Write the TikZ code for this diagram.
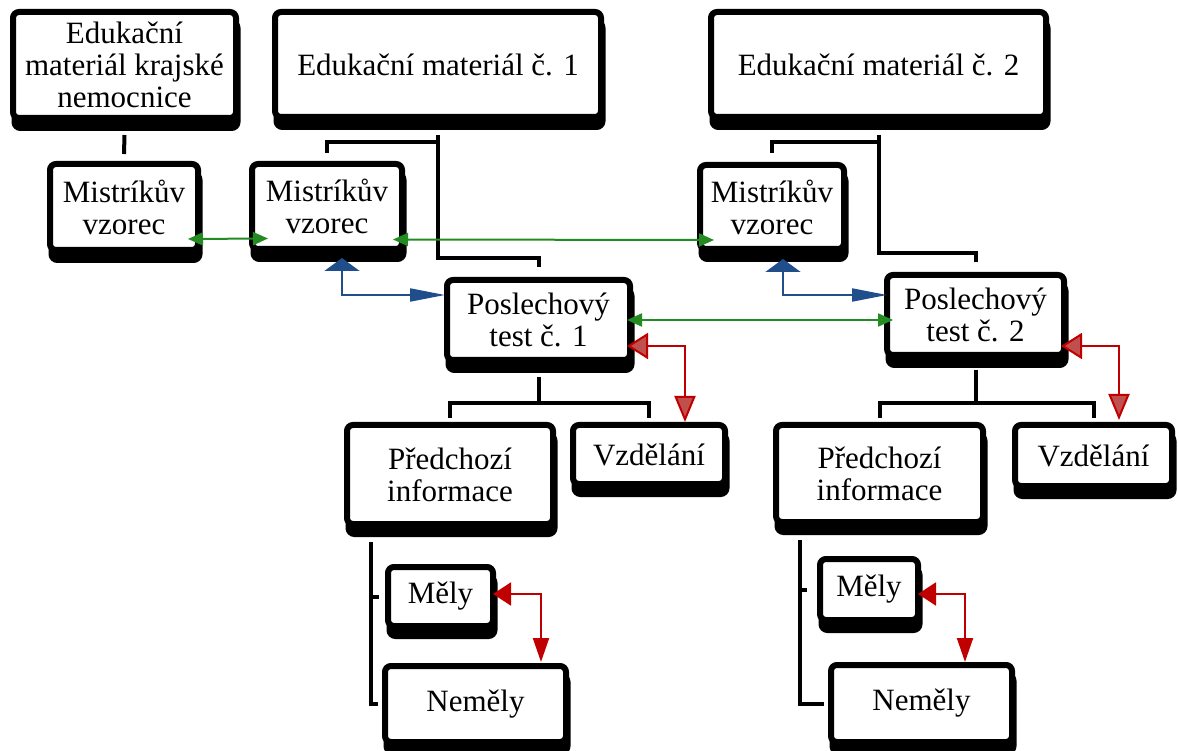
\documentclass[tikz,border=0pt]{standalone}
\usepackage{fontspec}
\setmainfont{Liberation Serif}
\usetikzlibrary{arrows.meta}
\definecolor{grn}{RGB}{34,139,34}
\definecolor{blu}{RGB}{31,78,138}
\definecolor{rd}{RGB}{192,0,0}
\definecolor{lrd}{RGB}{192,80,77}

\begin{document}
\begin{tikzpicture}[
  x=1pt, y=-1pt,
  bx/.style  = {draw, line width=6pt, rounded corners=6pt, fill=white, align=center,
                inner sep=2pt, outer sep=0pt, font=\fontsize{31}{32}\selectfont,
                preaction={draw=black, fill=black, transform canvas={xshift=1.5pt, yshift=-10pt}}},
  sz/.style 2 args = {minimum width=#1pt, minimum height=#2pt},
  tr/.style  = {line width=4pt},
  gar/.style = {{Triangle[length=15pt,width=13pt]}-{Triangle[length=15pt,width=13pt]}, draw=grn, line width=2pt},
  bar/.style = {{Triangle[length=13pt,width=35pt]}-{Triangle[length=35pt,width=13pt]}, draw=blu, line width=2pt},
  rar/.style = {{Triangle[length=21pt,width=26pt,fill=lrd]}-{Triangle[length=26pt,width=21pt,fill=lrd]}, draw=rd, line width=2pt},
  sar/.style = {{Triangle[length=18pt,width=23pt]}-{Triangle[length=24pt,width=16pt]}, draw=rd, line width=2pt}
]
\useasboundingbox (0,0) rectangle (1179,751);

% ---------- top row: materials -----------------------------------------
\node[bx, sz={223}{106}] (ekn) at (124.5,65)  {Edukační\\materiál krajské\\nemocnice};
\node[bx, sz={326}{105}] (em1) at (438,64.5)  {Edukační materiál č. 1};
\node[bx, sz={335}{105}] (em2) at (878.5,64.5) {Edukační materiál č. 2};

% ---------- second row: formula boxes ----------------------------------
\node[bx, sz={148}{86}] (mv0) at (124,207)   {Mistríkův\\vzorec};
\node[bx, sz={150}{85}] (mv1) at (327,206.5) {Mistríkův\\vzorec};
\node[bx, sz={144}{84}] (mv2) at (772,207)   {Mistríkův\\vzorec};

% ---------- listening tests --------------------------------------------
\node[bx, sz={183}{80}] (pt1) at (538.5,320) {Poslechový\\test č. 1};
\node[bx, sz={177}{80}] (pt2) at (975.5,315) {Poslechový\\test č. 2};

% ---------- factors ----------------------------------------------------
\node[bx, sz={206}{99}] (pi1) at (450,474.5)    {Předchozí\\informace};
\node[bx, sz={152}{59}] (vz1) at (649,454.5)    {Vzdělání};
\node[bx, sz={207}{97}] (pi2) at (879.5,473.5)  {Předchozí\\informace};
\node[bx, sz={157}{61}] (vz2) at (1093.5,455.5) {Vzdělání};

\node[bx, sz={105}{59}] (me1) at (440.5,596.5) {Měly};
\node[bx, sz={181}{76}] (ne1) at (475.5,704)   {Neměly};
\node[bx, sz={98}{61}]  (me2) at (869,589.5)   {Měly};
\node[bx, sz={181}{77}] (ne2) at (921.5,703.5) {Neměly};

% ---------- tree lines -------------------------------------------------
\draw[tr] ([yshift=-17pt]ekn.south) -- ([yshift=10pt]mv0.north);

\draw[tr] ([yshift=-18pt]em1.south) |- ([yshift=22pt]pt1.north) -| ([yshift=13pt]pt1.north);
\draw[tr] ([yshift=-25pt]em1.south) -| ([yshift=11pt]mv1.north);
\draw[tr] ([yshift=-18pt]em2.south) |- ([yshift=22pt]pt2.north) -| ([yshift=13pt]pt2.north);
\draw[tr] ([yshift=-25pt]em2.south) -| ([yshift=12pt]mv2.north);

\coordinate (pt1b) at ([yshift=-43pt]pt1.south);
\draw[tr] ([yshift=-17pt]pt1.south) -- (pt1b);
\draw[tr] ([yshift=7pt]pi1.north) |- (pt1b) -| ([yshift=7pt]vz1.north);
\coordinate (pt2b) at ([yshift=-48pt]pt2.south);
\draw[tr] ([yshift=-15pt]pt2.south) -- (pt2b);
\draw[tr] ([yshift=7pt]pi2.north) |- (pt2b) -| ([yshift=7pt]vz2.north);

\coordinate (pi1t) at ([xshift=-79pt,yshift=-18pt]pi1.south);
\draw[tr] (pi1t) |- ([xshift=-7pt]ne1.west);
\draw[tr] (pi1t |- me1.west) -- ([xshift=-9pt]me1.west);
\coordinate (pi2t) at ([xshift=-79.5pt,yshift=-18pt]pi2.south);
\draw[tr] (pi2t) |- ([xshift=-7pt]ne2.west);
\draw[tr] (pi2t |- me2.west) -- ([xshift=-13pt]me2.west);

% ---------- comparisons (green) ----------------------------------------
\draw[gar] ([xshift=-10pt,yshift=-32pt]mv0.east) -- ([xshift=16pt,yshift=-32pt]mv1.west);
\draw[gar] ([xshift=-9pt,yshift=-33pt]mv1.east) -- ([xshift=14pt,yshift=-33pt]mv2.west);
\draw[gar] ([xshift=-3pt]pt1.east) -- ([xshift=6pt,yshift=-5pt]pt2.west);

% ---------- formula vs. test (blue) ------------------------------------
\draw[bar] ([xshift=15pt,yshift=-9pt]mv1.south) |- ([xshift=-2pt,yshift=25pt]pt1.west);
\draw[bar] ([xshift=11pt,yshift=-10pt]mv2.south) |- ([yshift=20pt]pt2.west);

% ---------- influences (red) -------------------------------------------
\draw[rar] ([xshift=-3pt,yshift=-26pt]pt1.east) -| ([xshift=36pt,yshift=3pt]vz1.north);
\draw[rar] ([xshift=-3pt,yshift=-31pt]pt2.east) -| ([xshift=25.5pt,yshift=5pt]vz2.north);
\draw[sar] ([yshift=2.5pt]me1.east) -| ([xshift=65.5pt,yshift=4pt]ne1.north);
\draw[sar] ([yshift=-4.5pt]me2.east) -| ([xshift=43.5pt,yshift=3pt]ne2.north);

\end{tikzpicture}
\end{document}
